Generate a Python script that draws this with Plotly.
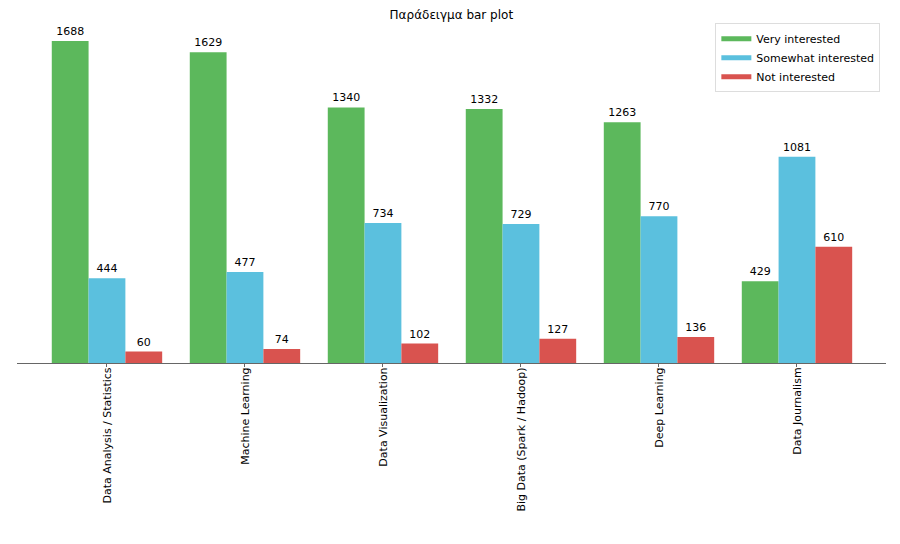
import plotly.graph_objects as go

categories = ["Data Analysis / Statistics", "Machine Learning", "Data Visualization",
              "Big Data (Spark / Hadoop)", "Deep Learning", "Data Journalism"]
very = [1688, 1629, 1340, 1332, 1263, 429]
somewhat = [444, 477, 734, 729, 770, 1081]
notint = [60, 74, 102, 127, 136, 610]
series_names = ["Very interested", "Somewhat interested", "Not interested"]
colors = ["#5cb85c", "#5bc0de", "#d9534f"]

font = "DejaVu Sans, Verdana, sans-serif"
fig = go.Figure()
for name, vals, col in zip(series_names, [very, somewhat, notint], colors):
    fig.add_trace(go.Bar(
        x=list(range(len(categories))), y=vals, name=name,
        marker=dict(color=col, line=dict(width=0)),
        text=[str(v) for v in vals], textposition="outside",
        textfont=dict(family=font, size=11, color="black"),
        cliponaxis=False, showlegend=False, legendgroup=name,
    ))
# legend proxies (rectangular patches like the reference)
for name, col in zip(series_names, colors):
    fig.add_trace(go.Scatter(
        x=[None], y=[None], mode="lines", name=name, legendgroup=name,
        line=dict(color=col, width=8), showlegend=True,
    ))

fig.update_layout(
    width=900, height=544,
    barmode="group", bargap=0.2, bargroupgap=0,
    paper_bgcolor="white", plot_bgcolor="white",
    margin=dict(l=17, r=14, t=25, b=181),
    title=dict(text="Παράδειγμα bar plot", x=0.5015, xanchor="center", y=0.972, yanchor="middle",
               font=dict(family=font, size=12, color="black")),
    font=dict(family=font, size=11, color="black"),
    showlegend=True,
    legend=dict(x=0.9935, xanchor="right", y=1.005, yanchor="top",
                bordercolor="#dddddd", borderwidth=1, bgcolor="white",
                font=dict(family=font, size=11), itemsizing="constant",
                tracegroupgap=0, itemwidth=30),
    xaxis=dict(tickmode="array", tickvals=list(range(len(categories))), ticktext=categories,
               tickangle=-90, range=[-0.652, 5.645], showline=True, linecolor="#666666",
               linewidth=1, ticks="outside", ticklen=3, tickcolor="#666666",
               ticklabelstandoff=-4,
               showgrid=False, zeroline=False, tickfont=dict(family=font, size=11)),
    yaxis=dict(range=[0, 1772.4], visible=False, showgrid=False, zeroline=False),
)

fig.write_html("out.html")
